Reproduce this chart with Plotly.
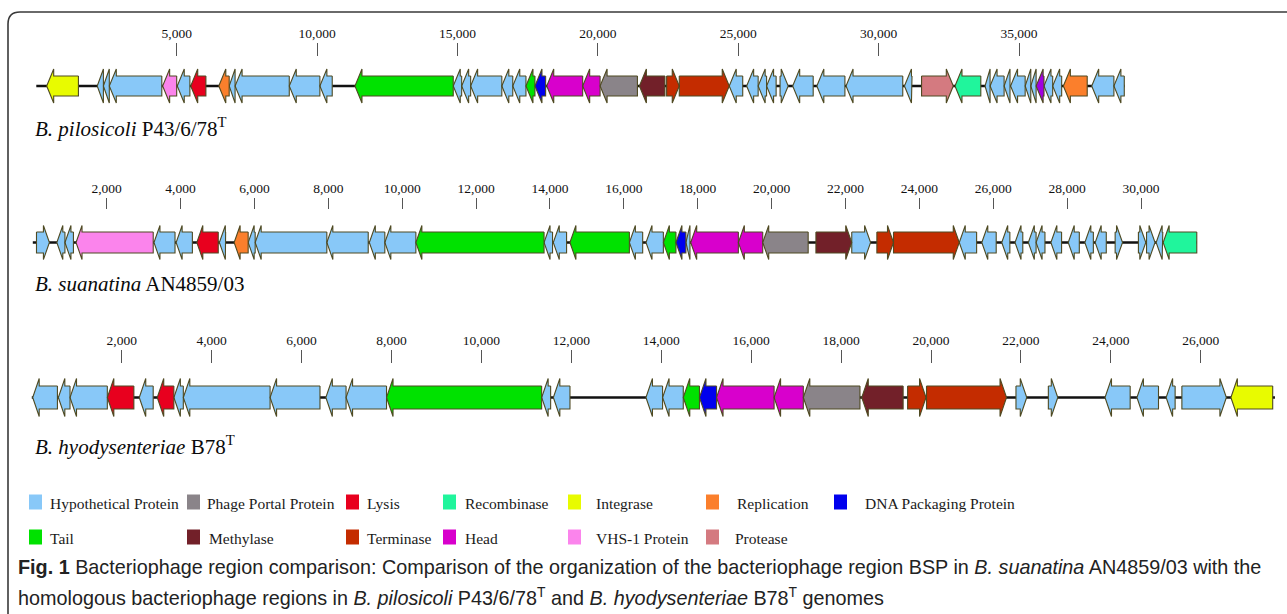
import plotly.graph_objects as go

W, H = 1287, 614

# ---------------- data ----------------
TYPE_NAMES = {
    "H": "Hypothetical Protein", "P": "Phage Portal Protein", "L": "Lysis",
    "R": "Recombinase", "I": "Integrase", "Rp": "Replication",
    "D": "DNA Packaging Protein", "T": "Tail", "M": "Methylase",
    "Te": "Terminase", "Hd": "Head", "V": "VHS-1 Protein", "Pr": "Protease",
    "O": "Other",
}
TYPE_COLORS = {
    "H": "#88c8f8", "P": "#8a8489", "L": "#e8001e", "R": "#20f59c",
    "I": "#e8fb00", "Rp": "#fb7f2c", "D": "#0000ee", "T": "#00e200",
    "M": "#722029", "Te": "#c42c00", "Hd": "#d800cc", "V": "#fb84ec",
    "Pr": "#d47a80", "O": "#a000e0",
}

# (start bp, end bp, strand, type)
T1_GENES = [
    (370, 1500, -1, "I"), (2170, 2390, -1, "H"), (2390, 2600, -1, "H"),
    (2600, 4470, -1, "H"), (4500, 5000, -1, "V"), (5020, 5470, -1, "H"),
    (5500, 6040, -1, "L"), (6500, 6870, -1, "Rp"), (6870, 7080, -1, "H"),
    (7080, 9010, -1, "H"), (9010, 10100, -1, "H"), (10100, 10540, -1, "H"),
    (11350, 14850, -1, "T"), (14850, 15150, -1, "H"), (15150, 15470, -1, "H"),
    (15470, 16580, -1, "H"), (16580, 16970, -1, "H"), (16970, 17440, -1, "H"),
    (17440, 17760, -1, "T"), (17760, 18140, -1, "D"), (18180, 19460, -1, "Hd"),
    (19460, 20080, -1, "Hd"), (20080, 21410, -1, "P"), (21480, 22390, -1, "M"),
    (22450, 22900, 1, "Te"), (22900, 24680, 1, "Te"), (24680, 25160, -1, "H"),
    (25300, 25710, -1, "H"), (25710, 26010, -1, "H"), (26010, 26350, -1, "H"),
    (26490, 26780, 1, "H"), (26940, 27670, -1, "H"), (27800, 28800, -1, "H"),
    (28840, 30860, -1, "H"), (30920, 31190, -1, "H"), (31530, 32660, 1, "Pr"),
    (32720, 33640, -1, "R"), (33790, 33970, -1, "H"), (33970, 34470, -1, "H"),
    (34470, 34680, -1, "H"), (34700, 35220, -1, "H"), (35220, 35420, -1, "H"),
    (35420, 35610, -1, "H"), (35610, 35890, -1, "O"), (35890, 36200, -1, "H"),
    (36200, 36520, -1, "H"), (36580, 37430, -1, "Rp"), (37590, 38380, -1, "H"),
    (38380, 38750, -1, "H"),
]
T1_LENGTH = 38760
T1_TICKS = [5000, 10000, 15000, 20000, 25000, 30000, 35000]

T2_GENES = [
    (100, 450, 1, "H"), (650, 870, -1, "H"), (870, 1100, -1, "H"),
    (1170, 3260, -1, "V"), (3280, 3850, -1, "H"), (3880, 4320, -1, "H"),
    (4440, 5020, -1, "L"), (5050, 5220, -1, "H"), (5450, 5830, -1, "Rp"),
    (5830, 6020, -1, "H"), (6020, 7960, -1, "H"), (7960, 9080, -1, "H"),
    (9110, 9530, -1, "H"), (9530, 10370, -1, "H"), (10370, 13840, -1, "T"),
    (13840, 14070, -1, "H"), (14090, 14450, -1, "H"), (14540, 16150, -1, "T"),
    (16150, 16510, -1, "H"), (16600, 17070, -1, "H"), (17070, 17410, -1, "T"),
    (17410, 17680, -1, "D"), (17680, 17790, -1, "H"), (17810, 19100, -1, "Hd"),
    (19100, 19760, -1, "Hd"), (19760, 20990, -1, "P"), (21200, 22170, 1, "M"),
    (22170, 22680, 1, "H"), (22850, 23300, 1, "Te"), (23300, 25080, 1, "Te"),
    (25080, 25550, -1, "H"), (25690, 26080, -1, "H"), (26230, 26450, -1, "H"),
    (26590, 26800, -1, "H"), (26950, 27160, -1, "H"), (27160, 27400, -1, "H"),
    (27560, 27850, -1, "H"), (28030, 28330, -1, "H"), (28480, 28710, -1, "H"),
    (28760, 29060, -1, "H"), (29300, 29500, 1, "H"), (29930, 30130, 1, "H"),
    (30150, 30380, 1, "H"), (30410, 30590, -1, "H"), (30600, 31510, -1, "R"),
]
T2_LENGTH = 31510
T2_TICKS = [2000, 4000, 6000, 8000, 10000, 12000, 14000, 16000, 18000,
            20000, 22000, 24000, 26000, 28000, 30000]

T3_GENES = [
    (20, 570, -1, "H"), (590, 850, -1, "H"), (850, 1680, -1, "H"),
    (1680, 2270, -1, "L"), (2390, 2700, -1, "H"), (2790, 3160, -1, "L"),
    (3160, 3370, -1, "H"), (3370, 5300, -1, "H"), (5300, 6410, -1, "H"),
    (6540, 6990, -1, "H"), (6990, 7890, -1, "H"), (7890, 11340, -1, "T"),
    (11340, 11540, -1, "H"), (11600, 11970, -1, "H"), (13660, 14030, -1, "H"),
    (14030, 14490, -1, "H"), (14490, 14850, -1, "T"), (14850, 15230, -1, "D"),
    (15230, 16510, -1, "Hd"), (16510, 17160, -1, "Hd"), (17160, 18420, -1, "P"),
    (18460, 19380, -1, "M"), (19480, 19890, 1, "Te"), (19900, 21680, 1, "Te"),
    (21890, 22130, 1, "H"), (22610, 22820, 1, "H"), (23870, 24430, -1, "H"),
    (24580, 25060, -1, "H"), (25230, 25430, -1, "H"), (25580, 26570, 1, "H"),
    (26670, 27600, -1, "I"),
]
T3_LENGTH = 27650
T3_TICKS = [2000, 4000, 6000, 8000, 10000, 12000, 14000, 16000, 18000,
            20000, 22000, 24000, 26000]

TRACK_LABELS = [
    "<i>B. pilosicoli</i> P43/6/78<sup>T</sup>",
    "<i>B. suanatina</i> AN4859/03",
    "<i>B. hyodysenteriae</i> B78<sup>T</sup>",
]

LEGEND_ROW1 = ["H", "P", "L", "R", "I", "Rp", "D"]
LEGEND_ROW2 = ["T", "M", "Te", "Hd", "V", "Pr"]

CAPTION_1 = ("<b>Fig. 1</b> Bacteriophage region comparison: Comparison of the organization "
             "of the bacteriophage region BSP in <i>B. suanatina</i> AN4859/03 with the")
CAPTION_2 = ("homologous bacteriophage regions in <i>B. pilosicoli</i> P43/6/78<sup>T</sup> "
             "and <i>B. hyodysenteriae</i> B78<sup>T</sup> genomes")

# ---------------- layout geometry (pixels) ----------------
TRACKS = [
    dict(genes=T1_GENES, length=T1_LENGTH, ticks=T1_TICKS, x0=36.3, scale=0.028077,
         yc=86, body=10, head=17, hl=7, tick_base=56, ticklen=13, label_y=128),
    dict(genes=T2_GENES, length=T2_LENGTH, ticks=T2_TICKS, x0=32.8, scale=0.03694,
         yc=242.5, body=10.5, head=17, hl=6, tick_base=209, ticklen=11, label_y=284),
    dict(genes=T3_GENES, length=T3_LENGTH, ticks=T3_TICKS, x0=31.8, scale=0.04496,
         yc=397.5, body=11.5, head=19, hl=6.5, tick_base=363, ticklen=13, label_y=445),
]
LEG_ROW1_POS = [(29, 48), (187, 205), (346, 365), (443, 463), (568, 594), (706, 735), (834, 863)]
LEG_ROW2_POS = [(29, 48), (187, 207), (346, 365), (443, 463), (568, 594), (706, 733)]
LEG_ROW_Y = [502, 537]

SERIF = "Liberation Serif, Times New Roman, serif"
SANS = "Liberation Sans, Arial, sans-serif"
OUTLINE = "#4f4a22"


def arrow(s, e, strand, yc, bh, hh, hl):
    h = min(hl, e - s)
    if strand > 0:
        b = e - h
        xs = [s, b, b, e, b, b, s, s]
    else:
        b = s + h
        xs = [e, b, b, s, b, b, e, e]
    ys = [yc - bh, yc - bh, yc - hh, yc, yc + hh, yc + bh, yc + bh, yc - bh]
    return xs, ys


fig = go.Figure()
axis_ids = ["x", "x2", "x3"]

for i, tr in enumerate(TRACKS):
    ax = axis_ids[i]
    fig.add_trace(go.Scatter(x=[0, tr["length"]], y=[tr["yc"], tr["yc"]], mode="lines",
                             line=dict(color="#111111", width=2.6), xaxis=ax, yaxis="y",
                             showlegend=False, hoverinfo="skip"))
    hl_bp = tr["hl"] / tr["scale"]
    groups = {}
    for (s, e, strand, t) in tr["genes"]:
        xs, ys = arrow(s, e, strand, tr["yc"], tr["body"], tr["head"], hl_bp)
        gx, gy = groups.setdefault(t, ([], []))
        gx.extend(xs + [None])
        gy.extend(ys + [None])
    for t, (gx, gy) in groups.items():
        fig.add_trace(go.Scatter(x=gx, y=gy, mode="lines", fill="toself",
                                 fillcolor=TYPE_COLORS[t],
                                 line=dict(color=OUTLINE, width=1.1),
                                 xaxis=ax, yaxis="y", name=TYPE_NAMES[t],
                                 showlegend=False, hoverinfo="name"))

layout_axes = {}
for i, tr in enumerate(TRACKS):
    key = "xaxis" if i == 0 else f"xaxis{i+1}"
    d = dict(range=[-tr["x0"] / tr["scale"], (W - tr["x0"]) / tr["scale"]],
             domain=[0, 1], anchor="free", position=1 - tr["tick_base"] / H,
             side="top", tickmode="array", tickvals=tr["ticks"],
             ticktext=[f"{v:,}" for v in tr["ticks"]],
             ticks="outside", ticklen=tr["ticklen"], tickwidth=1, tickcolor="#555555",
             showline=False, showgrid=False, zeroline=False, fixedrange=True,
             tickfont=dict(family=SERIF, size=13.5, color="#111111"))
    if i > 0:
        d["overlaying"] = "x"
    layout_axes[key] = d

shapes = []
annotations = []

for i, tr in enumerate(TRACKS):
    annotations.append(dict(x=33 / W, y=1 - tr["label_y"] / H, xref="paper", yref="paper",
                            text=TRACK_LABELS[i], showarrow=False, xanchor="left",
                            yanchor="middle", font=dict(family=SERIF, size=21, color="#0a0a0a")))

for row, (keys, pos) in enumerate([(LEGEND_ROW1, LEG_ROW1_POS), (LEGEND_ROW2, LEG_ROW2_POS)]):
    yc = LEG_ROW_Y[row]
    for k, (sx, tx) in zip(keys, pos):
        shapes.append(dict(type="rect", xref="paper", yref="paper",
                           x0=sx / W, x1=(sx + 13) / W,
                           y0=1 - (yc + 7.5) / H, y1=1 - (yc - 7.5) / H,
                           fillcolor=TYPE_COLORS[k], line=dict(width=0)))
        annotations.append(dict(x=tx / W, y=1 - (yc + 1) / H, xref="paper", yref="paper",
                                text=TYPE_NAMES[k], showarrow=False, xanchor="left",
                                yanchor="middle",
                                font=dict(family=SERIF, size=15.5, color="#1a1a1a")))

annotations.append(dict(x=16 / W, y=1 - 567 / H, xref="paper", yref="paper", text=CAPTION_1,
                        showarrow=False, xanchor="left", yanchor="middle",
                        font=dict(family=SANS, size=19.8, color="#222222")))
annotations.append(dict(x=16 / W, y=1 - 596 / H, xref="paper", yref="paper", text=CAPTION_2,
                        showarrow=False, xanchor="left", yanchor="middle",
                        font=dict(family=SANS, size=19.8, color="#222222")))

fx0, fy0, r = 8, 12, 12
path = (f"M {fx0/W},{1-(H+5)/H} L {fx0/W},{1-(fy0+r)/H} "
        f"Q {fx0/W},{1-fy0/H} {(fx0+r)/W},{1-fy0/H} L {(W+5)/W},{1-fy0/H}")
shapes.append(dict(type="path", path=path, xref="paper", yref="paper",
                   line=dict(color="#3a3a3a", width=1.6)))

fig.update_layout(
    width=W, height=H, margin=dict(l=0, r=0, t=0, b=0),
    paper_bgcolor="white", plot_bgcolor="white",
    yaxis=dict(range=[H, 0], domain=[0, 1], visible=False, fixedrange=True, anchor="x"),
    shapes=shapes, annotations=annotations, showlegend=False,
    **layout_axes,
)

fig.write_html("out.html", config={"displayModeBar": False},
               post_script="document.body.style.margin='0px';document.body.style.overflow='hidden';")
